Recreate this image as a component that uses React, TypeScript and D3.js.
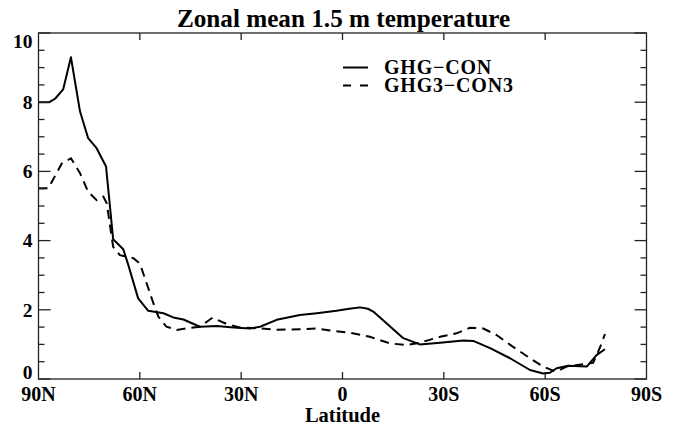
import React from "react";
import * as d3 from "d3";

const TITLE = "Zonal mean 1.5 m temperature";
const X_LABEL = "Latitude";
const SERIES_NAMES = ["GHG\u2212CON", "GHG3\u2212CON3"];

const X_TICKS = [90, 60, 30, 0, -30, -60, -90];
const X_TICK_LABELS = ["90N", "60N", "30N", "0", "30S", "60S", "90S"];
const Y_MAJOR = [0, 2, 4, 6, 8, 10];
const Y_MINOR = d3.range(0, 10.01, 0.5);

const latGHG = [90, 86.8, 85.1, 82.7, 80.4, 77.7, 75.3, 72.8, 70.0, 67.9, 64.9, 63.4, 60.5, 57.5, 53.0, 50.1, 47.1, 42.2, 37.2, 32.3, 27.4, 24.4, 19.5, 12.6, 7.6, 1.8, -2.0, -5.2, -7.5, -9.1, -13.6, -18.0, -22.9, -28.9, -35.8, -38.7, -43.7, -49.6, -55.5, -59.4, -61.4, -63.4, -66.8, -72.3, -75.2, -77.7];
const valGHG = [8.0, 8.0, 8.1, 8.37, 9.3, 7.73, 6.96, 6.67, 6.14, 4.04, 3.75, 3.29, 2.33, 1.97, 1.90, 1.78, 1.72, 1.51, 1.53, 1.49, 1.46, 1.51, 1.71, 1.85, 1.9, 1.97, 2.03, 2.07, 2.03, 1.95, 1.56, 1.18, 1.0, 1.05, 1.11, 1.10, 0.89, 0.6, 0.26, 0.16, 0.18, 0.31, 0.38, 0.36, 0.69, 0.86];

const latGHG3 = [90, 87.1, 83.1, 80.4, 77.7, 75.3, 72.8, 70.8, 69.8, 67.9, 65.9, 61.9, 60.0, 58.0, 56.0, 54.5, 52.1, 49.1, 45.2, 42.2, 38.5, 34.3, 30.4, 24.4, 19.5, 12.6, 7.6, 3.7, -2.2, -8.1, -14.0, -19.0, -22.9, -28.9, -33.8, -37.7, -41.7, -45.6, -50.5, -55.5, -59.4, -62.4, -64.3, -66.3, -71.3, -74.2, -75.7, -76.7, -77.7];
const valGHG3 = [5.51, 5.51, 6.23, 6.38, 5.95, 5.41, 5.17, 5.27, 5.08, 3.82, 3.58, 3.49, 3.34, 2.77, 2.19, 1.8, 1.51, 1.42, 1.48, 1.51, 1.77, 1.59, 1.49, 1.46, 1.42, 1.44, 1.46, 1.40, 1.34, 1.22, 1.03, 0.98, 1.05, 1.22, 1.32, 1.48, 1.46, 1.27, 0.93, 0.6, 0.36, 0.24, 0.26, 0.36, 0.43, 0.47, 0.79, 1.03, 1.30];

const W = 675;
const H = 427;
const M = { left: 38.5, right: 646.5, top: 33, bottom: 379 };
const FONT = "'Liberation Serif', 'Times New Roman', serif";

export default function App() {
  const x = d3.scaleLinear().domain([90, -90]).range([M.left, M.right]);
  const y = d3.scaleLinear().domain([0, 10]).range([M.bottom, M.top]);
  const line = d3
    .line<[number, number]>()
    .x((d) => x(d[0]))
    .y((d) => y(d[1]));

  const s1 = latGHG.map((l, i) => [l, valGHG[i]] as [number, number]);
  const s2 = latGHG3.map((l, i) => [l, valGHG3[i]] as [number, number]);

  const axisColor = "#222";
  const yLabelPos = (v: number) =>
    Math.min(Math.max(y(v), M.top + 8.5), M.bottom - 6.5);

  return (
    <svg
      width={W}
      height={H}
      style={{ position: "absolute", left: 0, top: 0, background: "#fff" }}
      fontFamily={FONT}
      fontWeight="bold"
    >
      <rect x={0} y={0} width={W} height={H} fill="#fff" />
      <text x={(M.left + M.right) / 2 + 1} y={27} textAnchor="middle" fontSize={25.2}>
        {TITLE}
      </text>

      {/* data lines */}
      <path d={line(s1) || ""} fill="none" stroke="#000" strokeWidth={2} strokeLinejoin="round" />
      <path d={line(s2) || ""} fill="none" stroke="#000" strokeWidth={2} strokeDasharray="9,6" />

      {/* frame */}
      <rect
        x={M.left}
        y={M.top}
        width={M.right - M.left}
        height={M.bottom - M.top}
        fill="none"
        stroke={axisColor}
        strokeWidth={1.3}
      />

      {/* y ticks */}
      {Y_MINOR.map((v) => {
        const major = Y_MAJOR.includes(v);
        const len = major ? 12 : 6;
        return (
          <g key={"y" + v} stroke={axisColor} strokeWidth={1.3}>
            <line x1={M.left} x2={M.left + len} y1={y(v)} y2={y(v)} />
            <line x1={M.right} x2={M.right - len} y1={y(v)} y2={y(v)} />
          </g>
        );
      })}
      {Y_MAJOR.map((v) => (
        <text
          key={"yl" + v}
          x={M.left - 6}
          y={yLabelPos(v)}
          dy="0.35em"
          textAnchor="end"
          fontSize={19.5}
        >
          {String(v)}
        </text>
      ))}

      {/* x ticks */}
      {X_TICKS.map((t, i) => (
        <g key={"x" + t}>
          {t !== 90 && t !== -90 && (
            <g stroke={axisColor} strokeWidth={1.3}>
              <line x1={x(t)} x2={x(t)} y1={M.bottom} y2={M.bottom - 7} />
              <line x1={x(t)} x2={x(t)} y1={M.top} y2={M.top + 7} />
            </g>
          )}
          <text x={x(t)} y={401} textAnchor="middle" fontSize={20}>
            {X_TICK_LABELS[i]}
          </text>
        </g>
      ))}
      <text x={(M.left + M.right) / 2} y={422} textAnchor="middle" fontSize={20.5}>
        {X_LABEL}
      </text>

      {/* legend */}
      <g>
        <line x1={343} x2={368} y1={67.5} y2={67.5} stroke="#000" strokeWidth={2} />
        <line x1={343} x2={368} y1={85.5} y2={85.5} stroke="#000" strokeWidth={2} strokeDasharray="8,9" />
        <text x={384} y={74} fontSize={20} letterSpacing={0.8}>
          {SERIES_NAMES[0]}
        </text>
        <text x={384} y={92} fontSize={20} letterSpacing={0.8}>
          {SERIES_NAMES[1]}
        </text>
      </g>
    </svg>
  );
}
